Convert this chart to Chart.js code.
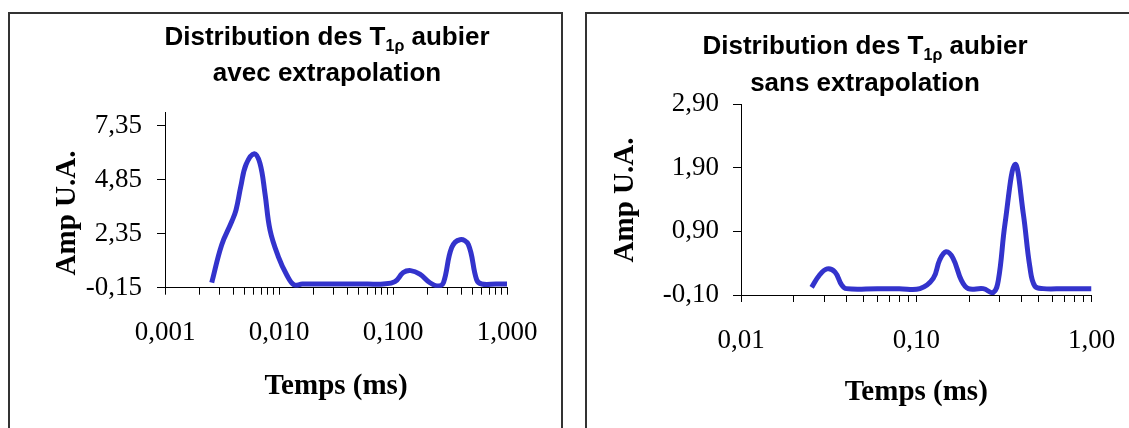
<!DOCTYPE html>
<html>
<head>
<meta charset="utf-8">
<title>Distribution des T1ρ aubier</title>
<script src="https://cdn.jsdelivr.net/npm/chart.js@4.4.0/dist/chart.umd.min.js"></script>
<style>
  html, body { margin: 0; padding: 0; background: #fff; }
  #page { position: relative; width: 1129px; height: 428px; overflow: hidden; }
  .box { position: absolute; border: 2px solid #333; border-bottom: none; }
  #box1 { left: 8px; top: 12px; width: 551px; height: 430px; }
  #box2 { left: 585px; top: 12px; width: 560px; height: 430px; border-right: none; }
  canvas { position: absolute; }
  #c1 { left: 10px; top: 14px; }
  #c2 { left: 587px; top: 14px; }
</style>
</head>
<body>
<div id="page">
  <div class="box" id="box1"></div>
  <div class="box" id="box2"></div>
  <canvas id="c1" width="551" height="414"></canvas>
  <canvas id="c2" width="542" height="414"></canvas>
</div>
<script>
// values (time in ms, amplitude in U.A.)
const leftTimes = [0.00257, 0.00314, 0.00385, 0.0042, 0.00462, 0.00514, 0.00607, 0.00681, 0.00753, 0.00834,
  0.00986, 0.0117, 0.01355, 0.016, 0.03, 0.06, 0.082, 0.104, 0.123, 0.143,
  0.172, 0.211, 0.25, 0.277, 0.327, 0.387, 0.458, 0.542, 0.6, 0.8, 1.0];
const leftAmps = [0.08, 1.83, 2.91, 3.45, 4.53, 5.55, 6.05, 5.6, 4.22, 2.52,
  1.29, 0.44, -0.02, 0.02, 0.02, 0.02, 0.02, 0.13, 0.55, 0.64, 0.48, 0.08, -0.07, 0.08, 1.70, 2.07, 1.85, 0.21, 0.02, 0.02, 0.02];

const rightTimes = [0.0253, 0.028, 0.031, 0.0344, 0.0375, 0.040, 0.06, 0.08, 0.105, 0.125,
  0.136, 0.148, 0.162, 0.181, 0.198, 0.241, 0.275, 0.294, 0.321, 0.366,
  0.408, 0.445, 0.475, 0.53, 0.7, 1.0];
const rightAmps = [0.02, 0.21, 0.31, 0.26, 0.06, 0.0, 0.0, 0.0, 0.0, 0.16,
  0.45, 0.58, 0.48, 0.13, 0.0, 0.0, -0.06, 0.13, 1.02, 1.95,
  1.18, 0.34, 0.04, 0.0, 0.0, 0.0];

// axis ticks and labels
const leftXDecades = [0.001, 0.01, 0.1, 1];
const leftXLabels = ["0,001", "0,010", "0,100", "1,000"];
const leftYTicks = [-0.15, 2.35, 4.85, 7.35];
const leftYLabels = ["-0,15", "2,35", "4,85", "7,35"];

const rightXDecades = [0.01, 0.1, 1];
const rightXLabels = ["0,01", "0,10", "1,00"];
const rightYTicks = [-0.10, 0.90, 1.90, 2.90];
const rightYLabels = ["-0,10", "0,90", "1,90", "2,90"];

// titles (the "1ρ" run is a subscript)
const leftTitle = [[{ text: "Distribution des T" }, { text: "1ρ", sub: true }, { text: " aubier" }],
  [{ text: "avec extrapolation" }]];
const rightTitle = [[{ text: "Distribution des T" }, { text: "1ρ", sub: true }, { text: " aubier" }],
  [{ text: "sans extrapolation" }]];
const xTitle = "Temps (ms)";
const yTitle = "Amp U.A.";

const SERIF = '"Liberation Serif", "Times New Roman", serif';
const SANS = '"Liberation Sans", Arial, sans-serif';
const LINE_COLOR = "#3333CC";

// draws the two line title with the subscript, and the y axis title
const splitTitle = {
  id: "splitTitle",
  afterDraw(chart, args, o) {
    const ctx = chart.ctx;
    ctx.save();
    ctx.fillStyle = "#000";
    ctx.textBaseline = "alphabetic";
    ctx.textAlign = "left";
    o.lines.forEach((runs, i) => {
      const fonts = runs.map(r => r.sub ? "bold 16px " + SANS : "bold 26px " + SANS);
      let total = 0;
      const widths = runs.map((r, k) => {
        ctx.font = fonts[k];
        const w = ctx.measureText(r.text).width;
        total += w;
        return w;
      });
      let x = o.centerX - total / 2;
      runs.forEach((r, k) => {
        ctx.font = fonts[k];
        ctx.fillText(r.text, x, o.baselines[i] + (r.sub ? 6 : 0));
        x += widths[k];
      });
    });

    // y axis title, rotated
    ctx.translate(o.yTitleX, o.yTitleY);
    ctx.rotate(-Math.PI / 2);
    ctx.font = "bold 29px " + SERIF;
    ctx.textAlign = "center";
    ctx.textBaseline = "middle";
    ctx.fillText(yTitle, 0, 0);
    ctx.restore();
  }
};

function allLogTicks(decades) {
  const out = [];
  for (let i = 0; i < decades.length; i++) {
    out.push(decades[i]);
    if (i < decades.length - 1) {
      for (let m = 2; m <= 9; m++) out.push(+(decades[i] * m).toPrecision(6));
    }
  }
  return out;
}

function noPad(s) {
  s.paddingLeft = 0;
  s.paddingRight = 0;
  s.paddingTop = 0;
  s.paddingBottom = 0;
}

function makeChart(id, c) {
  const xTicks = allLogTicks(c.xDecades);
  return new Chart(document.getElementById(id), {
    type: "line",
    data: {
      datasets: [{
        data: c.times.map((t, i) => ({ x: t, y: c.amps[i] })),
        borderColor: LINE_COLOR,
        borderWidth: 5,
        pointRadius: 0,
        tension: 0.4,
        borderJoinStyle: "round",
        fill: false
      }]
    },
    plugins: [splitTitle],
    options: {
      responsive: false,
      animation: false,
      layout: { padding: { left: 0, top: c.top, right: c.right, bottom: 0 } },
      plugins: {
        legend: { display: false },
        tooltip: { enabled: false },
        title: { display: false },
        splitTitle: { lines: c.title, centerX: c.titleX, baselines: c.titleBase, yTitleX: c.yTitleX, yTitleY: c.yTitleY }
      },
      scales: {
        x: {
          type: "logarithmic",
          min: c.xDecades[0],
          max: c.xDecades[c.xDecades.length - 1],
          afterBuildTicks: s => { s.ticks = xTicks.map(v => ({ value: v })); },
          afterFit: s => { s.height = c.xHeight; noPad(s); },
          ticks: {
            autoSkip: false,
            maxRotation: 0,
            color: "#000",
            padding: c.xPad,
            font: { family: SERIF, size: 27 },
            callback: v => {
              const k = c.xDecades.findIndex(d => Math.abs(d - v) < d * 1e-6);
              return k >= 0 ? c.xLabels[k] : "";
            }
          },
          grid: { drawOnChartArea: false, drawTicks: true, tickLength: 7, color: "#000" },
          border: { color: "#000", width: 1 },
          title: {
            display: true, text: xTitle, color: "#000",
            font: { family: SERIF, size: 29, weight: "bold" },
            padding: { top: 0, bottom: c.xTitlePad }
          }
        },
        y: {
          type: "linear",
          min: c.yMin,
          max: c.yMax,
          afterBuildTicks: s => { s.ticks = c.yTicks.map(v => ({ value: v })); },
          afterFit: s => { s.width = c.yWidth; noPad(s); },
          ticks: {
            color: "#000",
            padding: c.yPad,
            font: { family: SERIF, size: 27 },
            callback: v => {
              const k = c.yTicks.findIndex(d => Math.abs(d - v) < 1e-6);
              return k >= 0 ? c.yLabels[k] : "";
            }
          },
          grid: { drawOnChartArea: false, drawTicks: true, tickLength: 8, color: "#000" },
          border: { color: "#000", width: 1 },
          title: { display: false }
        }
      }
    }
  });
}

makeChart("c1", {
  times: leftTimes, amps: leftAmps,
  xDecades: leftXDecades, xLabels: leftXLabels,
  yTicks: leftYTicks, yLabels: leftYLabels, yMin: -0.15, yMax: 7.98,
  title: leftTitle, titleX: 317, titleBase: [31, 67],
  top: 98, right: 54, xHeight: 140.3, yWidth: 155,
  xPad: 22, yPad: 15, xTitlePad: 24, yTitleX: 58, yTitleY: 199
});

makeChart("c2", {
  times: rightTimes, amps: rightAmps,
  xDecades: rightXDecades, xLabels: rightXLabels,
  yTicks: rightYTicks, yLabels: rightYLabels, yMin: -0.10, yMax: 2.90,
  title: rightTitle, titleX: 278, titleBase: [39.5, 77],
  top: 90, right: 37.5, xHeight: 133, yWidth: 154,
  xPad: 23, yPad: 14, xTitlePad: 18, yTitleX: 39, yTitleY: 186
});
</script>
</body>
</html>
